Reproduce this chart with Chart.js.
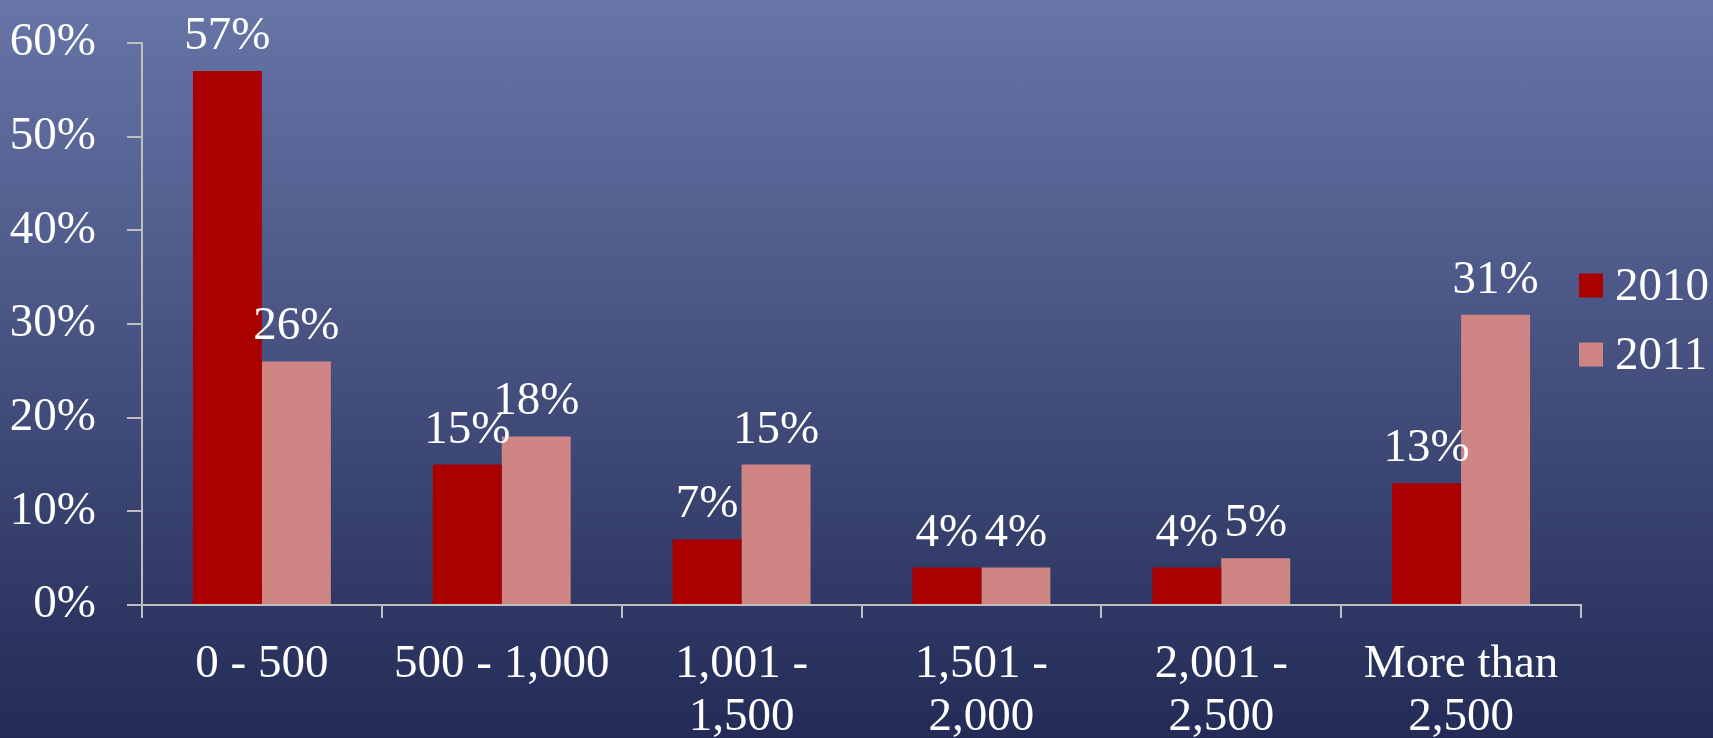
<!DOCTYPE html>
<html>
<head>
<meta charset="utf-8">
<script src="https://cdn.jsdelivr.net/npm/chart.js@4/dist/chart.umd.min.js"></script>
<style>
  html, body { margin: 0; padding: 0; }
  body {
    width: 1713px;
    height: 738px;
    overflow: hidden;
    background: linear-gradient(to bottom, #6775a7 0%, #232b56 100%);
  }
  #wrap { width: 1713px; height: 738px; }
</style>
</head>
<body>
<div id="wrap"><canvas id="sizeChart" width="1713" height="738"></canvas></div>
<script>
// Size bands on the x axis (two-line labels where they wrap)
const categories = [
	'0 - 500',
	'500 - 1,000',
	['1,001 -', '1,500'],
	['1,501 -', '2,000'],
	['2,001 -', '2,500'],
	['More than', '2,500']
];
const seriesNames = ['2010', '2011'];
const values2010 = [57, 15, 7, 4, 4, 13];
const values2011 = [26, 18, 15, 4, 5, 31];
const yTicks = [0, 10, 20, 30, 40, 50, 60];

const barColors = ['#aa0000', '#d08585'];
const axisColor = '#bfbfbf';
const fontFamily = "'Liberation Serif', 'Times New Roman', Times, serif";
const fontSize = 47;

// Percent value printed above every bar
const valueLabels = {
	id: 'valueLabels',
	afterDatasetsDraw(chart) {
		const ctx = chart.ctx;
		ctx.save();
		ctx.font = fontSize + 'px ' + fontFamily;
		ctx.fillStyle = '#ffffff';
		ctx.textAlign = 'center';
		ctx.textBaseline = 'alphabetic';
		chart.data.datasets.forEach((ds, i) => {
			chart.getDatasetMeta(i).data.forEach((bar, j) => {
				ctx.fillText(ds.data[j] + '%', bar.x, bar.y - 22);
			});
		});
		ctx.restore();
	}
};

// Legend drawn just right of the plot: square swatch + series name
const sideLegend = {
	id: 'sideLegend',
	afterDraw(chart) {
		const ctx = chart.ctx;
		const area = chart.chartArea;
		const box = 24;
		const rowGap = 69;
		const midY = (area.top + area.bottom) / 2 - 4;
		const startY = midY - rowGap * (chart.data.datasets.length - 1) / 2;
		ctx.save();
		ctx.font = fontSize + 'px ' + fontFamily;
		ctx.textBaseline = 'middle';
		ctx.textAlign = 'left';
		chart.data.datasets.forEach((ds, i) => {
			const y = startY + i * rowGap;
			ctx.fillStyle = ds.backgroundColor;
			ctx.fillRect(area.right - 2, y - box / 2, box, box);
			ctx.fillStyle = '#ffffff';
			ctx.fillText(ds.label, area.right - 2 + box + 12, y + 2);
		});
		ctx.restore();
	}
};

new Chart(document.getElementById('sizeChart'), {
	type: 'bar',
	data: {
		labels: categories,
		datasets: [
			{ label: seriesNames[0], data: values2010, backgroundColor: barColors[0] },
			{ label: seriesNames[1], data: values2011, backgroundColor: barColors[1] }
		]
	},
	options: {
		responsive: false,
		animation: false,
		layout: {
			padding: { left: 0, right: 132, top: 43, bottom: 0 }
		},
		datasets: {
			bar: {
				categoryPercentage: 0.575,   // both bars together fill 57.5% of a band
				barPercentage: 1.0           // no gap between the two years
			}
		},
		plugins: {
			legend: { display: false },
			tooltip: { enabled: false }
		},
		scales: {
			y: {
				min: 0,
				max: 60,
				afterBuildTicks: axis => { axis.ticks = yTicks.map(v => ({ value: v })); },
				afterFit: axis => { axis.width = 142; },
				border: { color: axisColor, width: 2 },
				grid: {
					drawOnChartArea: false,
					drawTicks: true,
					tickLength: 15,
					tickColor: axisColor,
					lineWidth: 2
				},
				ticks: {
					color: '#ffffff',
					padding: 31,
					// small line height keeps the top label from pushing the plot down
					font: { family: fontFamily, size: fontSize, lineHeight: 0.5 },
					callback: v => v + '%'
				}
			},
			x: {
				afterFit: axis => { axis.height = 133; },
				border: { color: axisColor, width: 2 },
				grid: {
					offset: true,
					drawOnChartArea: false,
					drawTicks: true,
					tickLength: 13,
					tickColor: axisColor,
					lineWidth: 2
				},
				ticks: {
					color: '#ffffff',
					padding: 20,
					maxRotation: 0,
					autoSkip: false,
					font: { family: fontFamily, size: fontSize, lineHeight: 1.13 }
				}
			}
		}
	},
	plugins: [valueLabels, sideLegend]
});
</script>
</body>
</html>
